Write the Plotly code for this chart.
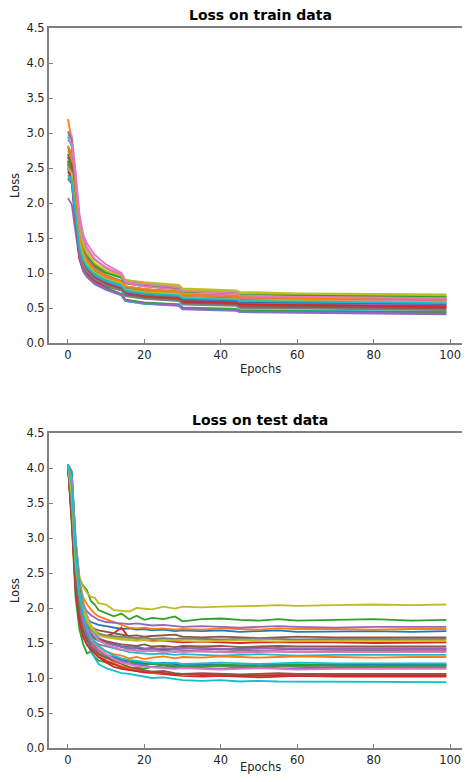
import plotly.graph_objects as go

# ---------------- data ----------------
TRAIN_EPOCHS = [0, 1, 2, 3, 4, 5, 7, 10, 14, 15, 20, 29, 30, 44, 45, 60, 80, 99]
TEST_EPOCHS = [0, 1, 2, 3, 4, 5, 6, 7, 8, 10, 12, 14, 16, 18, 20, 22, 25, 28, 30,
               35, 40, 45, 50, 55, 60, 70, 80, 90, 99]

X_TICKS = [0, 20, 40, 60, 80, 100]
Y_TICKS = [0.0, 0.5, 1.0, 1.5, 2.0, 2.5, 3.0, 3.5, 4.0, 4.5]

COLORS = ["#1f77b4", "#ff7f0e", "#2ca02c", "#d62728", "#9467bd",
          "#8c564b", "#e377c2", "#7f7f7f", "#bcbd22", "#17becf"]

train_00 = [2.60, 2.52, 1.95, 1.42, 1.20, 1.10, 0.98, 0.89, 0.82, 0.75, 0.71, 0.68, 0.64, 0.62, 0.60, 0.59, 0.58, 0.57]
train_01 = [3.20, 2.90, 2.15, 1.55, 1.30, 1.19, 1.06, 0.96, 0.88, 0.81, 0.77, 0.74, 0.70, 0.68, 0.66, 0.65, 0.64, 0.63]
train_02 = [2.80, 2.65, 2.15, 1.62, 1.38, 1.25, 1.12, 1.02, 0.94, 0.86, 0.82, 0.78, 0.74, 0.72, 0.70, 0.69, 0.68, 0.67]
train_03 = [2.35, 2.28, 1.70, 1.22, 1.05, 0.98, 0.90, 0.83, 0.77, 0.71, 0.68, 0.65, 0.61, 0.58, 0.56, 0.55, 0.54, 0.53]
train_04 = [2.07, 1.98, 1.58, 1.20, 1.02, 0.94, 0.84, 0.76, 0.68, 0.60, 0.56, 0.53, 0.48, 0.46, 0.44, 0.43, 0.42, 0.41]
train_05 = [2.48, 2.40, 1.80, 1.30, 1.10, 1.02, 0.92, 0.83, 0.76, 0.69, 0.65, 0.62, 0.58, 0.56, 0.53, 0.52, 0.51, 0.50]
train_06 = [3.02, 2.97, 2.45, 1.85, 1.55, 1.42, 1.26, 1.12, 1.00, 0.90, 0.85, 0.80, 0.75, 0.72, 0.69, 0.67, 0.66, 0.65]
train_07 = [2.68, 2.58, 1.95, 1.38, 1.15, 1.05, 0.94, 0.85, 0.77, 0.68, 0.64, 0.61, 0.56, 0.54, 0.51, 0.50, 0.49, 0.48]
train_08 = [2.70, 2.62, 2.20, 1.70, 1.45, 1.32, 1.18, 1.06, 0.98, 0.90, 0.87, 0.83, 0.78, 0.75, 0.73, 0.71, 0.70, 0.695]
train_09 = [2.95, 2.80, 1.95, 1.35, 1.10, 1.00, 0.88, 0.79, 0.70, 0.62, 0.57, 0.55, 0.51, 0.49, 0.47, 0.46, 0.455, 0.45]
train_10 = [2.55, 2.45, 1.95, 1.45, 1.24, 1.14, 1.02, 0.93, 0.85, 0.78, 0.74, 0.71, 0.66, 0.64, 0.62, 0.61, 0.60, 0.59]
train_11 = [2.82, 2.70, 2.10, 1.55, 1.30, 1.18, 1.05, 0.95, 0.87, 0.80, 0.76, 0.72, 0.68, 0.66, 0.64, 0.63, 0.62, 0.61]
train_12 = [2.65, 2.55, 2.08, 1.60, 1.36, 1.24, 1.10, 1.00, 0.93, 0.85, 0.81, 0.77, 0.73, 0.71, 0.69, 0.68, 0.67, 0.66]
train_13 = [2.50, 2.38, 1.75, 1.25, 1.07, 1.00, 0.91, 0.85, 0.79, 0.73, 0.70, 0.67, 0.63, 0.60, 0.58, 0.57, 0.56, 0.55]
train_14 = [2.60, 2.50, 1.90, 1.38, 1.16, 1.07, 0.96, 0.87, 0.80, 0.73, 0.69, 0.66, 0.61, 0.59, 0.57, 0.56, 0.55, 0.54]
train_15 = [2.57, 2.46, 1.85, 1.33, 1.12, 1.04, 0.93, 0.85, 0.78, 0.71, 0.67, 0.64, 0.60, 0.58, 0.55, 0.54, 0.53, 0.52]
train_16 = [2.98, 2.92, 2.40, 1.80, 1.50, 1.36, 1.20, 1.07, 0.96, 0.86, 0.81, 0.76, 0.70, 0.68, 0.64, 0.62, 0.61, 0.60]
train_17 = [3.02, 2.90, 2.20, 1.60, 1.34, 1.22, 1.08, 0.97, 0.89, 0.81, 0.77, 0.73, 0.69, 0.67, 0.65, 0.64, 0.63, 0.62]
train_18 = [2.62, 2.55, 2.12, 1.65, 1.40, 1.28, 1.14, 1.03, 0.96, 0.88, 0.85, 0.81, 0.76, 0.74, 0.71, 0.70, 0.69, 0.68]
train_19 = [2.37, 2.30, 1.72, 1.25, 1.05, 0.96, 0.86, 0.77, 0.69, 0.60, 0.56, 0.54, 0.49, 0.47, 0.45, 0.44, 0.435, 0.43]
train_20 = [2.70, 2.58, 1.98, 1.44, 1.21, 1.11, 0.99, 0.90, 0.83, 0.75, 0.71, 0.68, 0.63, 0.61, 0.59, 0.58, 0.57, 0.56]
train_21 = [2.75, 2.62, 2.05, 1.52, 1.28, 1.17, 1.05, 0.96, 0.88, 0.81, 0.77, 0.73, 0.69, 0.67, 0.65, 0.64, 0.63, 0.62]
train_22 = [2.60, 2.48, 1.80, 1.25, 1.05, 0.96, 0.86, 0.78, 0.70, 0.62, 0.58, 0.55, 0.50, 0.48, 0.46, 0.45, 0.445, 0.44]
train_23 = [2.45, 2.35, 1.72, 1.21, 1.04, 0.97, 0.88, 0.81, 0.75, 0.69, 0.66, 0.63, 0.59, 0.57, 0.55, 0.54, 0.53, 0.52]
train_24 = [2.52, 2.40, 1.76, 1.24, 1.04, 0.96, 0.86, 0.77, 0.69, 0.61, 0.57, 0.54, 0.49, 0.47, 0.45, 0.44, 0.43, 0.42]
train_25 = [2.66, 2.55, 1.92, 1.37, 1.14, 1.04, 0.93, 0.84, 0.77, 0.69, 0.65, 0.62, 0.57, 0.55, 0.52, 0.51, 0.50, 0.49]
train_26 = [2.90, 2.85, 2.35, 1.76, 1.48, 1.35, 1.20, 1.08, 0.98, 0.88, 0.84, 0.79, 0.74, 0.71, 0.68, 0.66, 0.65, 0.64]
train_27 = [2.55, 2.44, 1.85, 1.32, 1.11, 1.02, 0.91, 0.82, 0.75, 0.67, 0.63, 0.60, 0.55, 0.53, 0.50, 0.49, 0.48, 0.47]
train_28 = [2.50, 2.42, 1.92, 1.45, 1.23, 1.13, 1.01, 0.92, 0.85, 0.77, 0.73, 0.70, 0.65, 0.63, 0.61, 0.60, 0.59, 0.58]
train_29 = [2.40, 2.33, 1.85, 1.38, 1.18, 1.09, 0.98, 0.89, 0.82, 0.75, 0.71, 0.68, 0.64, 0.62, 0.60, 0.59, 0.58, 0.57]

test_00 = [4.05, 3.60, 2.70, 2.20, 1.95, 1.85, 1.80, 1.78, 1.76, 1.74, 1.72, 1.70, 1.71, 1.69, 1.70, 1.68, 1.69, 1.67, 1.68, 1.67, 1.68, 1.66, 1.67, 1.68, 1.66, 1.67, 1.67, 1.66, 1.67]
test_01 = [4.05, 3.50, 2.65, 2.35, 2.15, 2.05, 1.98, 1.92, 1.88, 1.84, 1.80, 1.76, 1.72, 1.71, 1.72, 1.70, 1.71, 1.69, 1.70, 1.69, 1.71, 1.70, 1.69, 1.71, 1.70, 1.70, 1.69, 1.70, 1.70]
test_02 = [4.05, 3.95, 2.95, 2.40, 2.32, 2.25, 2.10, 2.05, 1.97, 1.92, 1.88, 1.92, 1.84, 1.89, 1.83, 1.86, 1.84, 1.88, 1.81, 1.84, 1.85, 1.83, 1.82, 1.84, 1.82, 1.83, 1.84, 1.82, 1.83]
test_03 = [4.05, 3.30, 2.40, 2.05, 1.85, 1.75, 1.68, 1.64, 1.62, 1.60, 1.64, 1.72, 1.57, 1.56, 1.55, 1.54, 1.53, 1.52, 1.51, 1.52, 1.51, 1.50, 1.51, 1.51, 1.52, 1.51, 1.50, 1.51, 1.51]
test_04 = [4.05, 3.70, 2.80, 2.30, 2.05, 1.95, 1.90, 1.86, 1.83, 1.80, 1.79, 1.78, 1.77, 1.78, 1.76, 1.75, 1.76, 1.74, 1.73, 1.74, 1.73, 1.72, 1.73, 1.74, 1.73, 1.72, 1.73, 1.73, 1.73]
test_05 = [4.05, 3.40, 2.50, 2.10, 1.90, 1.80, 1.74, 1.70, 1.68, 1.66, 1.64, 1.62, 1.60, 1.61, 1.59, 1.60, 1.61, 1.62, 1.59, 1.58, 1.59, 1.58, 1.57, 1.58, 1.59, 1.58, 1.58, 1.57, 1.58]
test_06 = [4.05, 3.85, 3.00, 2.45, 2.10, 1.90, 1.75, 1.65, 1.58, 1.52, 1.48, 1.45, 1.44, 1.42, 1.41, 1.42, 1.40, 1.41, 1.39, 1.40, 1.41, 1.40, 1.39, 1.40, 1.41, 1.40, 1.40, 1.39, 1.40]
test_07 = [4.05, 3.40, 2.45, 2.00, 1.78, 1.65, 1.58, 1.52, 1.48, 1.45, 1.42, 1.40, 1.43, 1.39, 1.41, 1.38, 1.40, 1.37, 1.39, 1.38, 1.37, 1.39, 1.38, 1.38, 1.37, 1.38, 1.39, 1.38, 1.38]
test_08 = [4.05, 3.75, 2.85, 2.45, 2.30, 2.22, 2.16, 2.15, 2.07, 2.05, 1.97, 1.96, 1.95, 2.00, 1.99, 1.98, 2.02, 1.99, 2.02, 2.01, 2.02, 2.02, 2.03, 2.04, 2.03, 2.04, 2.05, 2.04, 2.05]
test_09 = [4.05, 3.95, 3.00, 2.40, 2.05, 1.85, 1.72, 1.63, 1.56, 1.48, 1.43, 1.40, 1.37, 1.36, 1.35, 1.34, 1.35, 1.33, 1.34, 1.33, 1.32, 1.33, 1.34, 1.33, 1.32, 1.33, 1.33, 1.34, 1.33]
test_10 = [4.05, 3.35, 2.35, 1.90, 1.72, 1.64, 1.60, 1.56, 1.53, 1.50, 1.47, 1.45, 1.44, 1.43, 1.42, 1.43, 1.41, 1.42, 1.43, 1.42, 1.41, 1.42, 1.43, 1.42, 1.41, 1.42, 1.42, 1.41, 1.42]
test_11 = [4.05, 3.55, 2.60, 2.10, 1.85, 1.70, 1.60, 1.52, 1.45, 1.38, 1.34, 1.32, 1.28, 1.30, 1.27, 1.29, 1.31, 1.28, 1.30, 1.29, 1.31, 1.30, 1.29, 1.30, 1.31, 1.30, 1.29, 1.30, 1.30]
test_12 = [4.05, 3.20, 2.15, 1.70, 1.48, 1.35, 1.38, 1.30, 1.25, 1.22, 1.20, 1.17, 1.14, 1.15, 1.13, 1.16, 1.18, 1.15, 1.17, 1.16, 1.17, 1.15, 1.16, 1.17, 1.16, 1.15, 1.16, 1.16, 1.16]
test_13 = [4.05, 3.30, 2.30, 1.85, 1.62, 1.50, 1.42, 1.36, 1.30, 1.22, 1.16, 1.13, 1.12, 1.10, 1.08, 1.07, 1.05, 1.04, 1.03, 1.02, 1.03, 1.02, 1.01, 1.02, 1.03, 1.02, 1.02, 1.01, 1.02]
test_14 = [4.05, 3.60, 2.60, 2.10, 1.85, 1.72, 1.64, 1.58, 1.54, 1.50, 1.47, 1.44, 1.43, 1.45, 1.42, 1.41, 1.43, 1.41, 1.42, 1.43, 1.42, 1.41, 1.42, 1.43, 1.42, 1.42, 1.41, 1.42, 1.42]
test_15 = [4.05, 3.45, 2.50, 2.00, 1.80, 1.70, 1.63, 1.58, 1.55, 1.52, 1.50, 1.48, 1.47, 1.46, 1.48, 1.45, 1.46, 1.44, 1.46, 1.45, 1.46, 1.44, 1.45, 1.46, 1.45, 1.45, 1.44, 1.45, 1.45]
test_16 = [4.05, 3.90, 2.90, 2.35, 2.00, 1.80, 1.68, 1.60, 1.54, 1.48, 1.44, 1.41, 1.40, 1.39, 1.38, 1.39, 1.37, 1.38, 1.37, 1.38, 1.37, 1.36, 1.37, 1.38, 1.37, 1.37, 1.36, 1.37, 1.37]
test_17 = [4.05, 3.30, 2.30, 1.85, 1.62, 1.50, 1.44, 1.38, 1.33, 1.28, 1.31, 1.26, 1.24, 1.22, 1.20, 1.22, 1.19, 1.18, 1.19, 1.17, 1.18, 1.17, 1.16, 1.17, 1.18, 1.17, 1.17, 1.16, 1.17]
test_18 = [4.05, 3.65, 2.70, 2.25, 2.00, 1.85, 1.75, 1.68, 1.64, 1.60, 1.58, 1.57, 1.56, 1.57, 1.55, 1.56, 1.54, 1.55, 1.56, 1.55, 1.54, 1.55, 1.56, 1.55, 1.54, 1.55, 1.55, 1.54, 1.55]
test_19 = [4.05, 3.95, 2.85, 2.15, 1.70, 1.50, 1.38, 1.28, 1.20, 1.14, 1.10, 1.07, 1.06, 1.04, 1.02, 1.00, 1.01, 0.98, 0.97, 0.96, 0.97, 0.95, 0.96, 0.95, 0.95, 0.94, 0.95, 0.94, 0.94]
test_20 = [4.05, 3.40, 2.40, 1.95, 1.70, 1.58, 1.50, 1.44, 1.39, 1.33, 1.29, 1.26, 1.24, 1.22, 1.21, 1.20, 1.22, 1.20, 1.19, 1.20, 1.19, 1.18, 1.19, 1.20, 1.19, 1.19, 1.18, 1.19, 1.19]
test_21 = [4.05, 3.50, 2.50, 2.00, 1.75, 1.62, 1.52, 1.44, 1.38, 1.30, 1.22, 1.16, 1.14, 1.12, 1.10, 1.08, 1.07, 1.06, 1.05, 1.06, 1.05, 1.04, 1.05, 1.06, 1.05, 1.05, 1.04, 1.05, 1.05]
test_22 = [4.05, 3.90, 2.85, 2.30, 1.95, 1.72, 1.58, 1.48, 1.40, 1.32, 1.26, 1.22, 1.24, 1.20, 1.18, 1.21, 1.19, 1.17, 1.18, 1.17, 1.19, 1.18, 1.17, 1.18, 1.19, 1.18, 1.17, 1.18, 1.18]
test_23 = [4.05, 3.25, 2.25, 1.80, 1.58, 1.47, 1.40, 1.35, 1.30, 1.25, 1.20, 1.15, 1.12, 1.10, 1.08, 1.09, 1.07, 1.05, 1.06, 1.04, 1.05, 1.04, 1.03, 1.04, 1.05, 1.04, 1.04, 1.03, 1.04]
test_24 = [4.05, 3.55, 2.55, 2.05, 1.78, 1.62, 1.52, 1.45, 1.40, 1.33, 1.28, 1.24, 1.21, 1.19, 1.17, 1.16, 1.15, 1.14, 1.15, 1.14, 1.13, 1.14, 1.15, 1.14, 1.13, 1.14, 1.14, 1.13, 1.14]
test_25 = [4.05, 3.35, 2.35, 1.90, 1.66, 1.54, 1.46, 1.40, 1.35, 1.29, 1.24, 1.20, 1.16, 1.13, 1.11, 1.09, 1.10, 1.07, 1.06, 1.07, 1.06, 1.05, 1.06, 1.07, 1.06, 1.06, 1.05, 1.06, 1.06]
test_26 = [4.05, 3.85, 2.80, 2.20, 1.88, 1.70, 1.58, 1.49, 1.42, 1.34, 1.27, 1.22, 1.19, 1.17, 1.16, 1.15, 1.14, 1.13, 1.14, 1.13, 1.12, 1.13, 1.14, 1.13, 1.12, 1.13, 1.13, 1.12, 1.13]
test_27 = [4.05, 3.50, 2.55, 2.10, 1.88, 1.76, 1.70, 1.66, 1.63, 1.61, 1.60, 1.59, 1.58, 1.57, 1.58, 1.56, 1.57, 1.56, 1.57, 1.56, 1.55, 1.56, 1.57, 1.56, 1.55, 1.56, 1.56, 1.55, 1.56]
test_28 = [4.05, 3.60, 2.65, 2.20, 1.95, 1.82, 1.72, 1.66, 1.61, 1.58, 1.56, 1.55, 1.54, 1.53, 1.54, 1.52, 1.53, 1.54, 1.53, 1.52, 1.53, 1.54, 1.53, 1.52, 1.53, 1.53, 1.52, 1.53, 1.53]
test_29 = [4.05, 3.75, 2.75, 2.20, 1.90, 1.72, 1.60, 1.52, 1.46, 1.38, 1.32, 1.28, 1.26, 1.24, 1.23, 1.22, 1.21, 1.22, 1.20, 1.21, 1.22, 1.21, 1.20, 1.21, 1.22, 1.21, 1.21, 1.20, 1.21]

TRAIN_RUNS = [train_00, train_01, train_02, train_03, train_04, train_05, train_06, train_07, train_08, train_09,
              train_10, train_11, train_12, train_13, train_14, train_15, train_16, train_17, train_18, train_19,
              train_20, train_21, train_22, train_23, train_24, train_25, train_26, train_27, train_28, train_29]
TEST_RUNS = [test_00, test_01, test_02, test_03, test_04, test_05, test_06, test_07, test_08, test_09,
             test_10, test_11, test_12, test_13, test_14, test_15, test_16, test_17, test_18, test_19,
             test_20, test_21, test_22, test_23, test_24, test_25, test_26, test_27, test_28, test_29]

for r in TRAIN_RUNS:
    assert len(r) == len(TRAIN_EPOCHS), len(r)
for r in TEST_RUNS:
    assert len(r) == len(TEST_EPOCHS), len(r)

# ---------------- figure ----------------
# The page body adds an 8px margin on each side; the visible figure area is 454 px wide.
OFF = 8
W, H = 470 - 2 * OFF, 766
ML = 49 - OFF            # left spine at window x=49
MT = 28 - OFF            # top of train axes at window y=28
PLOT_BOTTOM = 748 - OFF  # bottom of test axes at window y=748
MB = H - PLOT_BOTTOM
MR = 0
plot_w = W - ML - MR
plot_h = H - MT - MB

def paper_y(win_y):
    return (PLOT_BOTTOM - (win_y - OFF)) / plot_h

def paper_x(win_x):
    return (win_x - 49) / plot_w

fig = go.Figure()

for i, run in enumerate(TRAIN_RUNS):
    fig.add_trace(go.Scatter(x=TRAIN_EPOCHS, y=run, mode="lines", xaxis="x", yaxis="y",
                             line=dict(color=COLORS[i % 10], width=1.8), showlegend=False,
                             hoverinfo="skip"))
for i, run in enumerate(TEST_RUNS):
    fig.add_trace(go.Scatter(x=TEST_EPOCHS, y=run, mode="lines", xaxis="x2", yaxis="y2",
                             line=dict(color=COLORS[i % 10], width=1.8), showlegend=False,
                             hoverinfo="skip"))

FONT = "DejaVu Sans"
tickfont = dict(family=FONT, size=11.5, color="#262626")
titlefont = dict(family=FONT, size=11.5, color="#262626")
spine = "#808080"

xcommon = dict(range=[-4.95, 103.1], tickvals=X_TICKS, ticks="inside", ticklen=4,
               tickcolor=spine, tickwidth=1, showline=True, linecolor=spine, linewidth=2,
               mirror=True, showgrid=False, zeroline=False, tickfont=tickfont, automargin=False)
ycommon = dict(range=[0, 4.5], tickvals=Y_TICKS, tickformat=".1f", ticks="inside", ticklen=4,
               tickcolor=spine, tickwidth=1, showline=True, linecolor=spine, linewidth=2,
               mirror=True, showgrid=False, zeroline=False, tickfont=tickfont, automargin=False,
               title=dict(text="Loss", font=titlefont, standoff=6))

ann_x = paper_x(260)
fig.update_layout(
    width=W, height=H,
    margin=dict(l=ML, r=MR, t=MT, b=MB, pad=0),
    paper_bgcolor="white", plot_bgcolor="white",
    xaxis=dict(domain=[0, 1], anchor="y", **xcommon),
    yaxis=dict(domain=[paper_y(343), 1], anchor="x", **ycommon),
    xaxis2=dict(domain=[0, 1], anchor="y2", **xcommon),
    yaxis2=dict(domain=[0, paper_y(433)], anchor="x2", **ycommon),
    annotations=[
        dict(text="<b>Loss on train data</b>", x=ann_x, xref="paper",
             y=paper_y(15), yref="paper", yanchor="middle", showarrow=False,
             font=dict(family=FONT, size=14, color="black")),
        dict(text="<b>Loss on test data</b>", x=ann_x, xref="paper",
             y=paper_y(420), yref="paper", yanchor="middle", showarrow=False,
             font=dict(family=FONT, size=14, color="black")),
        dict(text="Epochs", x=ann_x, xref="paper", y=paper_y(369), yref="paper",
             yanchor="middle", showarrow=False, font=titlefont),
        dict(text="Epochs", x=ann_x, xref="paper", y=paper_y(767), yref="paper",
             yanchor="middle", showarrow=False, font=titlefont),
    ],
)

fig.write_html("out.html")
